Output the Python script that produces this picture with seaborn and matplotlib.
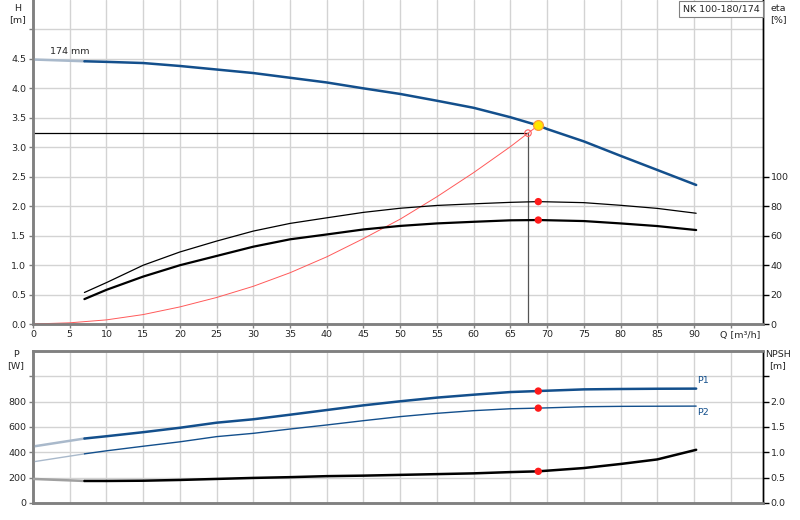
import numpy as np
import pandas as pd
import matplotlib
matplotlib.use("Agg")
import matplotlib.pyplot as plt
import seaborn as sns
from matplotlib.ticker import FixedLocator, FixedFormatter

# ---------------- data ----------------
Q_H = [0, 7, 10, 15, 20, 25, 30, 35, 40, 45, 50, 55, 60, 65, 68.8, 70, 75, 80, 85, 90.3]
H_curve = [4.49, 4.46, 4.45, 4.43, 4.38, 4.32, 4.26, 4.18, 4.10, 4.00, 3.905, 3.79,
           3.67, 3.51, 3.37, 3.31, 3.10, 2.855, 2.615, 2.36]

Q_eta = [7, 10, 15, 20, 25, 30, 35, 40, 45, 50, 55, 60, 65, 68.8, 75, 80, 85, 90.3]
eta_upper = [21.4, 28.1, 39.9, 48.9, 56.3, 63.1, 68.3, 72.1, 75.8, 78.6, 80.5, 81.6,
             82.6, 83.1, 82.4, 80.6, 78.5, 75.2]
eta_lower = [16.9, 23.2, 32.2, 39.9, 46.2, 52.5, 57.5, 60.8, 64.2, 66.6, 68.3, 69.4,
             70.4, 70.6, 69.9, 68.3, 66.5, 63.8]

Q_sys = [0, 5, 10, 15, 20, 25, 30, 35, 40, 45, 50, 55, 60, 65, 67.4, 68.8]
H_sys = [0, 0.02, 0.07, 0.16, 0.29, 0.45, 0.64, 0.87, 1.14, 1.45, 1.78, 2.16, 2.57,
         3.01, 3.24, 3.37]

Q_P = [0, 7, 10, 15, 20, 25, 30, 35, 40, 45, 50, 55, 60, 65, 68.8, 75, 80, 85, 90.3]
P1 = [446, 509, 527, 559, 594, 634, 661, 697, 734, 771, 803, 832, 855, 876, 884,
      897, 900, 902, 903]
P2 = [325, 388, 412, 448, 483, 524, 550, 584, 616, 650, 682, 708, 729, 744, 749,
      760, 763, 764, 765]
NPSH = [0.475, 0.435, 0.435, 0.44, 0.455, 0.475, 0.495, 0.51, 0.53, 0.54, 0.555,
        0.57, 0.585, 0.61, 0.625, 0.69, 0.77, 0.86, 1.05]

duty_Q = 68.8
duty_H = 3.37
duty_eta = [83.1, 70.6]
duty_P = [884, 749]
duty_NPSH = 0.625
req_Q = 67.4
req_H = 3.24

x_ticks = [0, 5, 10, 15, 20, 25, 30, 35, 40, 45, 50, 55, 60, 65, 70, 75, 80, 85, 90]
H_ticks = [0.0, 0.5, 1.0, 1.5, 2.0, 2.5, 3.0, 3.5, 4.0, 4.5]
eta_ticks = [0, 20, 40, 60, 80, 100]
P_ticks = [0, 200, 400, 600, 800]
NPSH_ticks = [0.0, 0.5, 1.0, 1.5, 2.0]

# ---------------- style ----------------
sns.set_theme(style="white")
plt.rcParams['font.family'] = ['DejaVu Sans']
plt.rcParams['font.size'] = 6.8
FS = 6.8
BLUE = "#134f8c"
FADE_BLUE = "#a9b9cb"
FADE_BLACK = "#a0a0a0"
GRID = "#d3d3d3"
SPINE = "#808080"

fig = plt.figure(figsize=(8, 5.2), dpi=100)
ax = fig.add_axes([33/800, 1-324/520, 730/800, 324/520])
axb = fig.add_axes([33/800, 1-503/520, 730/800, 152/520])

XMAX = 99.4


def split(qs, ys, qcut=7):
    qa = [q for q in qs if q <= qcut]
    ya = ys[:len(qa)]
    qb = [q for q in qs if q >= qcut]
    yb = ys[len(qs)-len(qb):]
    return qa, ya, qb, yb


def line(axis, q, y, color, lw, z=3):
    df = pd.DataFrame({"Q": q, "y": y})
    sns.lineplot(data=df, x="Q", y="y", ax=axis, color=color, lw=lw,
                 sort=False, estimator=None, zorder=z, legend=False)


def grid_setup(axis, yt, ylim):
    axis.set_xlim(0, XMAX)
    axis.set_ylim(*ylim)
    for xv in range(5, 100, 5):
        axis.axvline(xv, color=GRID, lw=1.0, zorder=0)
    for yv in yt:
        if 0 < yv < ylim[1]:
            axis.axhline(yv, color=GRID, lw=1.0, zorder=0)


# ---------------- top: H / eta ----------------
grid_setup(ax, [0.5*i for i in range(1, 11)], (0, 5.5))
ax2 = ax.twinx()
ax2.set_ylim(0, 220)

qa, ya, qb, yb = split(Q_H, H_curve)
line(ax, qa, ya, FADE_BLUE, 1.8)
line(ax, qb, yb, BLUE, 1.8)
line(ax, Q_sys, H_sys, "#ff5a5a", 0.7)
ax.plot([0, req_Q], [req_H, req_H], color="black", lw=0.9, zorder=2)
ax.plot([req_Q, req_Q], [0, req_H], color="#555555", lw=0.9, zorder=2)
sns.scatterplot(x=[req_Q], y=[req_H], ax=ax, s=22, facecolor="none",
                edgecolor="#ff5a5a", linewidth=0.8, zorder=5)
sns.scatterplot(x=[duty_Q], y=[duty_H], ax=ax, s=50, color="#ffe600",
                edgecolor="#ff9a3a", linewidth=0.9, zorder=6)

line(ax2, Q_eta, eta_upper, "black", 0.9)
line(ax2, Q_eta, eta_lower, "black", 1.6)
sns.scatterplot(x=[duty_Q, duty_Q], y=duty_eta, ax=ax2, s=28, color="#ff1a1a",
                edgecolor="none", zorder=6)

ax.text(2.3, 4.62, "174 mm", fontsize=FS, ha="left", va="center")

ax.yaxis.set_major_locator(FixedLocator(H_ticks + [5.0]))
ax.yaxis.set_major_formatter(FixedFormatter([f"{v:.1f}" for v in H_ticks] + [""]))
ax.xaxis.set_major_locator(FixedLocator(x_ticks + [95]))
ax.xaxis.set_major_formatter(FixedFormatter([str(v) for v in x_ticks] + [""]))
ax2.yaxis.set_major_locator(FixedLocator(eta_ticks))
ax2.yaxis.set_major_formatter(FixedFormatter([str(v) for v in eta_ticks]))
ax.set_xlabel("")
ax.set_ylabel("")
ax2.set_ylabel("")
ax.annotate("Q [m³/h]", xy=(96.3, 0), xycoords=ax.get_xaxis_transform(),
            xytext=(0, -5), textcoords="offset points", ha="center", va="top",
            fontsize=FS)

ax.tick_params(axis="y", direction="out", length=3, width=1, color=SPINE,
               labelsize=FS, pad=2, left=True)
ax.tick_params(axis="x", direction="out", length=3, width=1, color=SPINE,
               labelsize=FS, pad=1.5, bottom=True)
ax2.tick_params(axis="y", direction="out", length=4, width=1, color="black",
                labelsize=FS, pad=1.5, right=True)

for a in (ax, ax2):
    a.spines["top"].set_visible(False)
    a.spines["left"].set_color(SPINE)
    a.spines["left"].set_linewidth(1.8)
    a.spines["bottom"].set_color(SPINE)
    a.spines["bottom"].set_linewidth(1.8)
    a.spines["right"].set_color("black")
    a.spines["right"].set_linewidth(1.0)

# ---------------- bottom: P / NPSH ----------------
grid_setup(axb, [200*i for i in range(1, 7)], (0, 1200))
axb2 = axb.twinx()
axb2.set_ylim(0, 3.0)

qa, ya, qb, yb = split(Q_P, P1)
line(axb, qa, ya, FADE_BLUE, 1.8)
line(axb, qb, yb, BLUE, 1.8)
qa, ya, qb, yb = split(Q_P, P2)
line(axb, qa, ya, FADE_BLUE, 1.0)
line(axb, qb, yb, BLUE, 1.0)
qa, ya, qb, yb = split(Q_P, NPSH)
line(axb2, qa, ya, FADE_BLACK, 1.8)
line(axb2, qb, yb, "black", 1.8)

sns.scatterplot(x=[duty_Q, duty_Q], y=duty_P, ax=axb, s=28, color="#ff1a1a",
                edgecolor="none", zorder=6)
sns.scatterplot(x=[duty_Q], y=[duty_NPSH], ax=axb2, s=28, color="#ff1a1a",
                edgecolor="none", zorder=6)

axb.text(90.4, 969, "P1", color=BLUE, fontsize=FS, ha="left", va="center")
axb.text(90.4, 712, "P2", color=BLUE, fontsize=FS, ha="left", va="center")

axb.yaxis.set_major_locator(FixedLocator(P_ticks + [1000]))
axb.yaxis.set_major_formatter(FixedFormatter([str(v) for v in P_ticks] + [""]))
axb.set_xticks([])
axb2.yaxis.set_major_locator(FixedLocator(NPSH_ticks + [2.5]))
axb2.yaxis.set_major_formatter(FixedFormatter([f"{v:.1f}" for v in NPSH_ticks] + [""]))
axb.set_xlabel("")
axb.set_ylabel("")
axb2.set_ylabel("")
axb.tick_params(axis="y", direction="out", length=3, width=1, color=SPINE,
                labelsize=FS, pad=2, left=True)
axb2.tick_params(axis="y", direction="out", length=4, width=1, color="black",
                 labelsize=FS, pad=1.5, right=True)
for a in (axb, axb2):
    for s in ("top", "left", "bottom"):
        a.spines[s].set_color(SPINE)
        a.spines[s].set_linewidth(1.8)
    a.spines["right"].set_color("black")
    a.spines["right"].set_linewidth(1.0)

# ---------------- axis captions ----------------
fig.text(18/800, 1-4/520, "H\n[m]", ha="center", va="top", fontsize=FS,
         linespacing=1.25)
fig.text(778/800, 1-4/520, "eta\n[%]", ha="center", va="top", fontsize=FS,
         linespacing=1.25)
fig.text(16/800, 1-350/520, "P\n[W]", ha="center", va="top", fontsize=FS,
         linespacing=1.25)
fig.text(778/800, 1-350/520, "NPSH\n[m]", ha="center", va="top", fontsize=FS,
         linespacing=1.25)
fig.text(721/800, 1-9/520, "NK 100-180/174", ha="center", va="center",
         fontsize=FS,
         bbox=dict(boxstyle="square,pad=0.35", facecolor="white",
                   edgecolor="#808080", linewidth=0.8))

fig.savefig("out.png", dpi=100)
